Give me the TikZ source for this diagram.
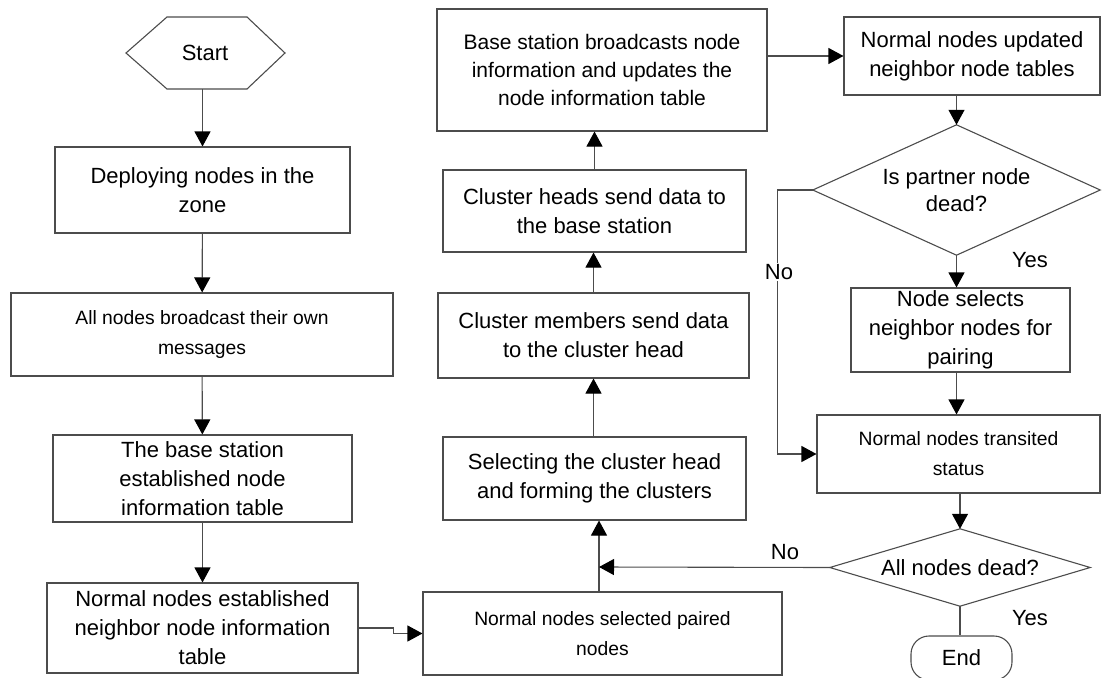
\documentclass[tikz,border=0pt]{standalone}
\usepackage{fontspec}
\setmainfont{Liberation Sans}
\usetikzlibrary{arrows.meta}
\tikzset{
box/.style={draw=black!70,line width=1.1pt,align=center,inner sep=0pt,font=\fontsize{22}{29}\selectfont},
smallbox/.style={box,font=\fontsize{19.3}{30}\selectfont},
dec/.style={align=center,inner sep=0pt,font=\fontsize{22}{27}\selectfont},
edge/.style={draw=black!70,line width=1.1pt},
arr/.style={edge,-{Triangle[length=15pt,width=16pt,color=black]}},
lbl/.style={font=\fontsize{22}{26}\selectfont,inner sep=1pt},
}
\begin{document}
\begin{tikzpicture}[x=1pt,y=-1pt]
\useasboundingbox (0,0) rectangle (1102,677);
% start
\draw[edge] (126,53) -- (167,17) -- (247,17) -- (285,53) -- (247,89) -- (167,89) -- cycle;
\node[lbl,minimum width=159pt,minimum height=72pt] (start) at (205,53) {Start};
% left column
\node[box,minimum width=295pt,minimum height=86pt] (deploy) at (202.5,190) {Deploying nodes in the\\zone};
\node[smallbox,minimum width=382pt,minimum height=83pt] (bcast) at (202,334.5) {All nodes broadcast their own\\messages};
\node[box,minimum width=299pt,minimum height=87pt] (bstable) at (202.5,478.5) {The base station\\established node\\information table};
\node[box,minimum width=311pt,minimum height=90pt] (nbtable) at (202.5,628) {Normal nodes established\\neighbor node information\\table};
% middle column
\node[smallbox,minimum width=359pt,minimum height=83pt] (paired) at (602.5,633.5) {Normal nodes selected paired\\nodes};
\node[box,minimum width=303pt,minimum height=83pt] (select) at (594.5,478.5) {Selecting the cluster head\\and forming the clusters};
\node[box,minimum width=311pt,minimum height=85pt] (members) at (593.5,335.5) {Cluster members send data\\to the cluster head};
\node[box,minimum width=303pt,minimum height=82pt] (heads) at (594.5,211) {Cluster heads send data to\\the base station};
\node[box,font=\fontsize{21}{28}\selectfont,minimum width=330pt,minimum height=122pt] (bsinfo) at (602,70) {Base station broadcasts node\\information and updates the\\node information table};
% right column
\node[box,minimum width=256pt,minimum height=78pt] (update) at (972,56) {Normal nodes updated\\neighbor node tables};
\node[dec,minimum width=287pt,minimum height=130pt] (partner) at (956.5,190) {Is partner node\\dead?};
\draw[edge] (partner.north) -- (partner.east) -- (partner.south) -- (partner.west) -- cycle;
\node[box,minimum width=219pt,minimum height=84pt] (pairing) at (960.5,330) {Node selects\\neighbor nodes for\\pairing};
\node[smallbox,minimum width=283pt,minimum height=78pt] (status) at (958.5,454) {Normal nodes transited\\status};
\node[dec,minimum width=260pt,minimum height=77pt] (alldead) at (960,567.5) {All nodes dead?};
\draw[edge] (alldead.north) -- (alldead.east) -- (alldead.south) -- (alldead.west) -- cycle;
\node[box,rounded corners=18pt,minimum width=101pt,minimum height=44pt] (end) at (961.5,658) {End};
\coordinate (join) at (599,567);
% connectors
\draw[arr] (start.south -| deploy.north) -- (deploy.north);
\draw[arr] (deploy) -- (bcast);
\draw[arr] (bcast) -- (bstable);
\draw[arr] (bstable) -- (nbtable);
\draw[arr] (nbtable.east) -- ++(35,0) |- (paired.west);
\draw[arr] (paired.north -| join) -- (select.south -| join);
\draw[arr] (select.north -| members.south) -- (members.south);
\draw[arr] (members.north) -- (heads.south -| members.north);
\draw[arr] (heads.north) -- (bsinfo.south -| heads.north);
\draw[arr] (bsinfo.east |- update.west) -- (update.west);
\draw[arr] (update.south -| partner.north) -- (partner.north);
\draw[arr] (partner.south) -- (pairing.north -| partner.south);
\draw[arr] (partner.west) -- ++(-35,0) |- (status.west);
\draw[arr] (pairing.south -| partner.south) -- (status.north -| partner.south);
\draw[arr] (status.south -| alldead.north) -- (alldead.north);
\draw[arr] (alldead.west) -- (join);
\draw[edge] (alldead.south) -- (end.north -| alldead.south);
% labels
\node[lbl,fill=white] (no1) at (779,272) {No};
\node[lbl] (yes1) at (1030,260) {Yes};
\node[lbl] (no2) at (785,552) {No};
\node[lbl] (yes2) at (1030,618) {Yes};
\end{tikzpicture}
\end{document}
